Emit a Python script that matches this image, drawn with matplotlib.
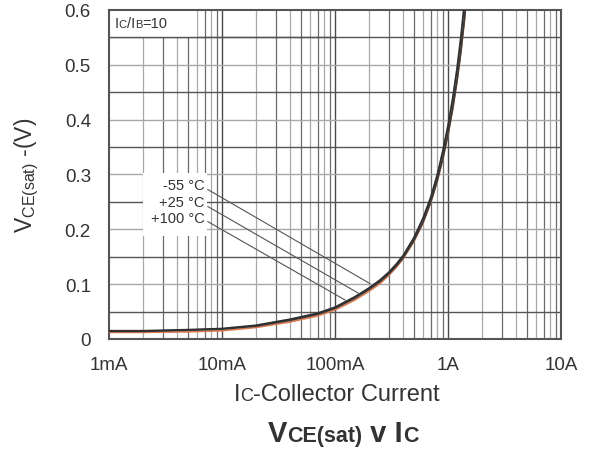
import matplotlib
matplotlib.use("Agg")
import matplotlib.pyplot as plt
from matplotlib.offsetbox import TextArea, HPacker, AnnotationBbox
import numpy as np

plt.rcParams['font.family'] = ['Liberation Sans', 'DejaVu Sans']

# collector current (mA) and VCE(sat) (V)
ic_m55 = [1, 2, 5, 10, 20, 40, 70, 100, 150, 200, 250, 300, 350, 400, 500, 600, 700, 800, 900, 1000, 1100, 1200, 1300, 1400]
vce_m55 = [0.015, 0.015, 0.017, 0.019, 0.025, 0.036, 0.047, 0.058, 0.077, 0.093, 0.1075, 0.122, 0.137, 0.152, 0.185, 0.220, 0.257, 0.298, 0.343, 0.389, 0.439, 0.492, 0.551, 0.615]

ic_25 = [1, 2, 5, 10, 20, 40, 70, 100, 150, 200, 250, 300, 350, 400, 500, 600, 700, 800, 900, 1000, 1100, 1200, 1300, 1400, 1500]
vce_25 = [0.014, 0.014, 0.016, 0.018, 0.0235, 0.034, 0.045, 0.056, 0.0745, 0.0905, 0.1045, 0.119, 0.1335, 0.148, 0.180, 0.213, 0.249, 0.288, 0.330, 0.374, 0.421, 0.471, 0.525, 0.585, 0.655]

ic_100 = [1, 2, 5, 10, 20, 40, 70, 100, 150, 200, 250, 300, 350, 400, 500, 600, 700, 800, 900, 1000, 1100, 1200, 1300, 1400, 1500]
vce_100 = [0.012, 0.012, 0.013, 0.015, 0.021, 0.031, 0.042, 0.053, 0.071, 0.087, 0.101, 0.116, 0.131, 0.146, 0.178, 0.211, 0.247, 0.286, 0.328, 0.372, 0.419, 0.469, 0.523, 0.583, 0.653]

x_ticks = [1, 10, 100, 1000, 10000]
x_labels = ['1mA', '10mA', '100mA', '1A', '10A']
y_ticks = [0, 0.1, 0.2, 0.3, 0.4, 0.5, 0.6]
y_labels = ['0', '0.1', '0.2', '0.3', '0.4', '0.5', '0.6']

temp_labels = ['-55 °C', '+25 °C', '+100 °C']
label_y = [0.280, 0.250, 0.220]
leader_start = [(7.5, 0.2725), (7.5, 0.2415), (7.5, 0.214)]
leader_end = [(204, 0.101), (166, 0.082), (123, 0.071)]

TXT = '#333333'


def packed(parts, **kw):
    # text pieces of different size sharing one baseline
    boxes = [TextArea(s, textprops=dict(fontsize=fs, color=TXT, **kw)) for s, fs in parts]
    return HPacker(children=boxes, align='baseline', pad=0, sep=0)


fig = plt.figure(figsize=(5.96, 4.52), dpi=100)
ax = fig.add_axes([0.1829, 0.2478, 0.7584, 0.7279])
ax.set_xscale('log')
ax.set_xlim(1, 10000)
ax.set_ylim(0, 0.6)

# grid
for dec in [1, 10, 100, 1000]:
    for k in range(2, 10):
        ax.axvline(dec * k, color='#6a6a6a' if k % 2 else '#a8a8a8', lw=0.9, zorder=1)
for dec in [10, 100, 1000]:
    ax.axvline(dec, color='#4a4a4a', lw=1.0, zorder=1)
for y in np.arange(0.05, 0.6, 0.05):
    ax.axhline(y, color='#a8a8a8' if round(y / 0.05) % 2 == 0 else '#555555', lw=1.0, zorder=1)

ax.plot(ic_100, vce_100, color='#e07a50', lw=1.2, zorder=3)
ax.plot(ic_25, vce_25, color='#3a3a3a', lw=1.3, zorder=4)
ax.plot(ic_m55, vce_m55, color='#2e2e2e', lw=1.3, zorder=4)

# white patch behind the temperature labels
ax.fill_between([2.0, 7.4], 0.187, 0.302, color='white', lw=0, zorder=2)
for txt, y, s, e in zip(temp_labels, label_y, leader_start, leader_end):
    ax.text(7.0, y, txt, ha='right', va='center', fontsize=10.5, color=TXT, zorder=6)
    ax.plot([s[0], e[0]], [s[1], e[1]], color='#555555', lw=0.8, zorder=5)

# Ic/Ib box in the top-left cell
ax.fill_between([1, 6.0], 0.551, 0.6, color='white', zorder=2, lw=0)
ax.axhline(0.55, xmax=0.5, color='#555555', lw=1.0, zorder=2.5)
ratio = packed([('I', 10.5), ('C', 8), ('/I', 10.5), ('B', 8), ('=10', 10.5)])
ax.add_artist(AnnotationBbox(ratio, (1.12, 0.577), xycoords='data', frameon=False,
                             box_alignment=(0, 0.5), pad=0, zorder=6))

ax.set_xticks(x_ticks)
ax.set_xticklabels(x_labels)
ax.xaxis.set_minor_locator(matplotlib.ticker.NullLocator())
ax.set_yticks(y_ticks)
ax.set_yticklabels(y_labels)
ax.tick_params(axis='both', length=0, labelsize=13.5, colors=TXT)
ax.tick_params(axis='x', pad=12)
ax.tick_params(axis='y', pad=13)
for sp in ax.spines.values():
    sp.set_color('#555555')
    sp.set_linewidth(1.5)

ax.set_ylabel(r'V$_\mathregular{CE(sat)}$ -(V)', fontsize=16.5, color=TXT, labelpad=17)

xlab = packed([('I', 17), ('C', 13), ('-Collector Current', 17)])
fig.add_artist(AnnotationBbox(xlab, (0.5649, (452 - 395) / 452), xycoords='figure fraction',
                              frameon=False, box_alignment=(0.5, 0.5), pad=0))

title = packed([('V', 21), ('CE(sat)', 15.5), (' v I', 21), ('C', 15.5)], fontweight='bold')
fig.add_artist(AnnotationBbox(title, (0.5755, (452 - 434) / 452), xycoords='figure fraction',
                              frameon=False, box_alignment=(0.5, 0.5), pad=0))

fig.savefig('out.png', dpi=100)
